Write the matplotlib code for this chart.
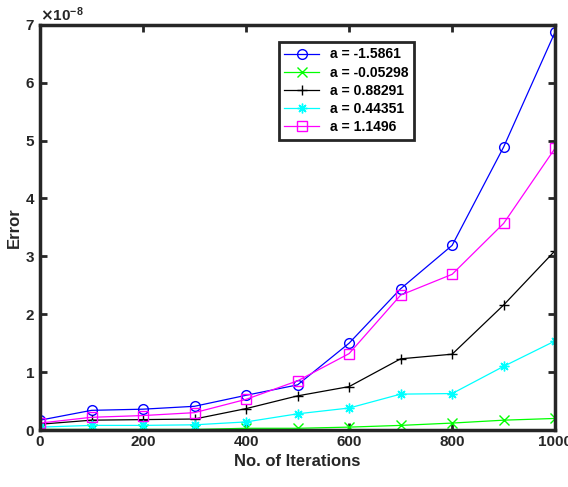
import matplotlib.pyplot as plt
import matplotlib.ticker as mticker

plt.rcParams['font.family'] = ['Liberation Sans', 'DejaVu Sans']
plt.rcParams['font.weight'] = 'bold'

iters = [0, 100, 200, 300, 400, 500, 600, 700, 800, 900, 1000]

labels = ['a = -1.5861', 'a = -0.05298', 'a = 0.88291', 'a = 0.44351', 'a = 1.1496']

# errors in units of 1e-8
err_a1 = [0.17, 0.34, 0.36, 0.41, 0.60, 0.78, 1.50, 2.44, 3.19, 4.89, 6.88]
err_a2 = [0.01, 0.01, 0.01, 0.01, 0.03, 0.03, 0.05, 0.08, 0.12, 0.17, 0.20]
err_a3 = [0.10, 0.17, 0.18, 0.19, 0.37, 0.59, 0.75, 1.23, 1.31, 2.16, 3.10]
err_a4 = [0.05, 0.08, 0.08, 0.09, 0.14, 0.28, 0.38, 0.62, 0.63, 1.10, 1.54]
err_a5 = [0.12, 0.22, 0.25, 0.30, 0.53, 0.85, 1.32, 2.33, 2.69, 3.57, 4.87]

series = [err_a1, err_a2, err_a3, err_a4, err_a5]
colors = ['#0000ff', '#00ff00', '#000000', '#00ffff', '#ff00ff']
markers = ['o', 'x', '+', (8, 2, 0), 's']

fig = plt.figure(figsize=(5.68, 4.87), dpi=100)
ax = fig.add_axes([0.0704, 0.117, 0.907, 0.832])

for vals, c, m, lab in zip(series, colors, markers, labels):
    ax.plot(iters, [v * 1e-8 for v in vals], color=c, marker=m, markersize=7,
            markerfacecolor='none', markeredgecolor=c, linewidth=0.9, label=lab)

ax.set_xlim(0, 1000)
ax.set_ylim(0, 7e-8)
ax.set_xticks(range(0, 1001, 200))
ax.set_yticks([i * 1e-8 for i in range(8)])

fmt = mticker.ScalarFormatter(useMathText=True)
fmt.set_powerlimits((0, 0))
ax.yaxis.set_major_formatter(fmt)
ax.yaxis.get_offset_text().set_fontsize(11)
ax.yaxis.get_offset_text().set_color('#262626')

for s in ax.spines.values():
    s.set_linewidth(2.5)
    s.set_color('#262626')
ax.tick_params(direction='in', top=True, right=True, length=5, width=2,
               color='#262626', labelsize=11, labelcolor='#262626')
for t in ax.get_xticklabels() + ax.get_yticklabels():
    t.set_fontweight('bold')

ax.set_xlabel('No. of Iterations', fontsize=12, fontweight='bold', color='#262626')
ax.set_ylabel('Error', fontsize=12, fontweight='bold', color='#262626', labelpad=2)

leg = ax.legend(loc='upper left', bbox_to_anchor=(0.45, 0.975), fancybox=False,
                edgecolor='#262626', fontsize=10, handlelength=2.5,
                borderpad=0.4, labelspacing=0.3, framealpha=1)
leg.get_frame().set_linewidth(2)
for t in leg.get_texts():
    t.set_fontweight('bold')

fig.savefig('out.png', dpi=100)
